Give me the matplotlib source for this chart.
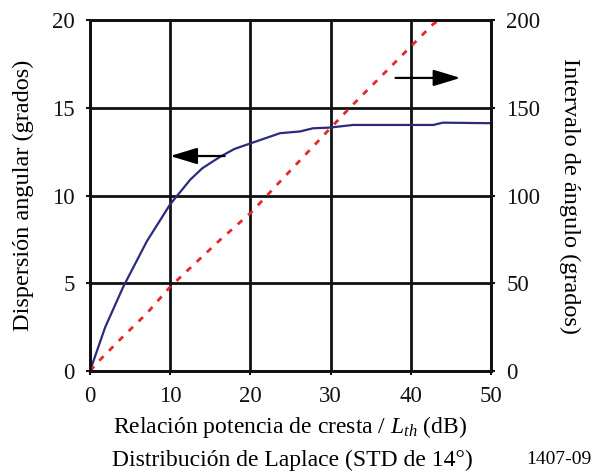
import matplotlib.pyplot as plt

plt.rcParams['font.family'] = ['Liberation Serif', 'DejaVu Serif']
plt.rcParams['mathtext.fontset'] = 'custom'
plt.rcParams['mathtext.it'] = 'Liberation Serif:italic'
plt.rcParams['mathtext.rm'] = 'Liberation Serif'

# blue curve: angular spread (left axis, degrees)
x_spread = [0, 1.9, 4.15, 7.1, 10, 12.5, 14, 16.2, 18, 20.2, 23.7, 26.2, 27.8, 29.9, 32.8, 42.8, 44.0, 50]
spread = [0, 2.5, 4.8, 7.4, 9.5, 10.9, 11.55, 12.2, 12.65, 13.0, 13.55, 13.65, 13.83, 13.87, 14.02, 14.02, 14.15, 14.12]

# red dashed curve: angle interval (right axis, degrees)
x_interval = [0, 1.25, 3.7, 7.1, 10, 16.2, 20.2, 23.5, 29.9, 32.4, 42.8, 43.6]
interval = [0, 6.3, 17.7, 32.9, 48, 74.6, 90.8, 107, 138, 150, 197.7, 200]

fig = plt.figure(figsize=(5.94, 4.72), dpi=100)
ax = fig.add_axes([0.1515, 0.214, 0.675, 0.7436])
ax2 = ax.twinx()

ax.plot(x_spread, spread, color='#2b2a7f', lw=1.6)
ax2.plot(x_interval, interval, color='#e8262a', lw=2, ls=(0, (2.2, 2.8)))

ax.set_xlim(0, 50)
ax.set_ylim(0, 20)
ax2.set_ylim(0, 200)
ax.set_xticks(range(0, 51, 10))
ax.set_yticks(range(0, 21, 5))
ax2.set_yticks(range(0, 201, 50))
ax.grid(True, color='#111111', lw=2)
ax.set_axisbelow(True)

for a in (ax, ax2):
    for s in a.spines.values():
        s.set_linewidth(2)
        s.set_color('#111111')
    a.tick_params(labelsize=16.5, width=1.5, length=3, pad=8, colors='#111111')

ax.set_ylabel('Dispersión angular (grados)', fontsize=17.5, labelpad=13)
ax2.set_ylabel('Intervalo de ángulo (grados)', fontsize=17.5, rotation=-90, labelpad=29)
ax.set_xlabel('Relación potencia de cresta / $L_{th}$ (dB)', fontsize=17, labelpad=5)

# direction arrows
style = '-|>,head_length=1.65,head_width=0.5'
ax.annotate('', xy=(10, 12.25), xytext=(16.8, 12.25),
            arrowprops=dict(arrowstyle=style, color='black', lw=1.6, mutation_scale=10,
                            shrinkA=0, shrinkB=0))
ax.annotate('', xy=(46.2, 16.7), xytext=(38.1, 16.7),
            arrowprops=dict(arrowstyle=style, color='black', lw=1.6, mutation_scale=10,
                            shrinkA=0, shrinkB=0))

fig.text(0.493, 0.002, 'Distribución de Laplace (STD de 14°)', fontsize=17, ha='center', va='bottom')
fig.text(0.94, 0.008, '1407-09', fontsize=14, ha='center', va='bottom')

fig.savefig('out.png', dpi=100)
